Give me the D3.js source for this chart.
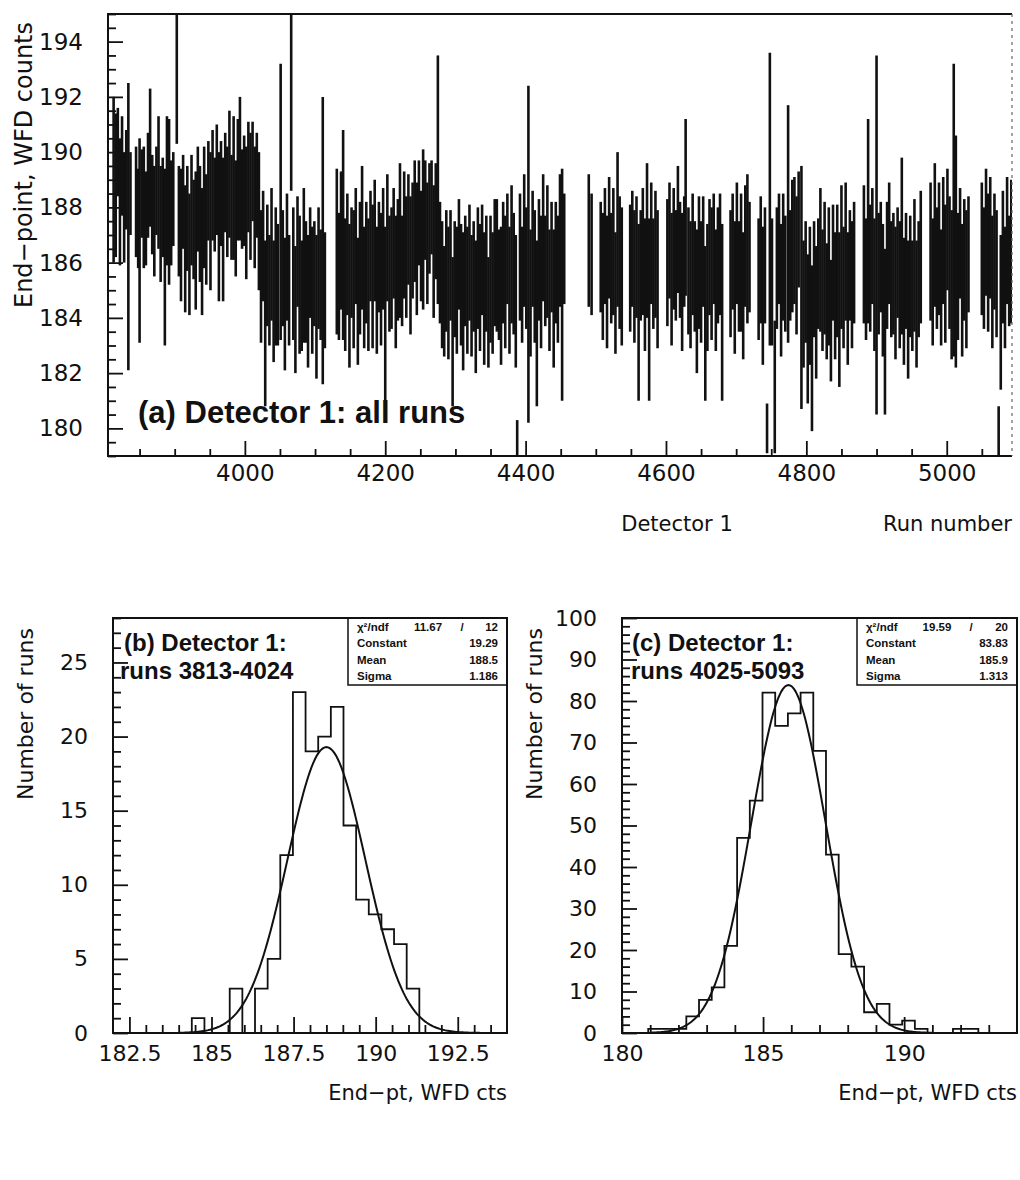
<!DOCTYPE html>
<html>
<head>
<meta charset="utf-8">
<script src="https://cdn.jsdelivr.net/npm/d3@7"></script>
<style>
  body { margin: 0; background: #fff; }
  svg text { fill: #111; }
</style>
</head>
<body>
<svg id="chart" width="1020" height="1180"></svg>
<script>
// ---------- data: panel (a), end-point per run (centre and error) ----------
const runNo = [
  3813,3816,3819,3822,3825,3828,3831,3834,3837,
  3845,3848,3850,3853,3856,3859,3862,3865,3868,3871,3874,3877,3880,3883,3886,3889,3892,3895,3898,3903,
  3906,3909,3912,3915,3918,3921,3924,3927,3930,3933,3936,3939,
  3942,3945,3948,3951,3954,3957,3960,3963,3966,3969,3972,3975,3978,3981,3984,3987,3990,3993,3996,3999,4002,4005,4008,4011,4014,4017,4020,
  4023,4026,4029,4032,4035,4038,4041,4044,4047,4051,4054,4057,4060,4063,4066,4069,4072,4075,4078,4081,4084,4087,4090,4093,4096,4099,4102,4105,4108,4111,4114,
  4131,4134,4137,4140,4143,4146,4149,4152,4155,4158,4161,4164,4167,4170,
  4173,4176,4179,4182,4185,4188,4191,4194,4197,4200,4203,4206,4209,4212,4215,4218,4221,4224,4227,4230,4233,4236,4239,4242,4245,4248,4251,4254,4257,4260,4263,4266,4269,4272,4275,
  4278,4281,4284,4287,4290,4293,4296,4299,4302,4305,4308,4311,4314,4317,4320,4323,4326,4329,4332,4335,4338,4341,4344,4347,4350,4353,4356,4359,4362,
  4365,4368,4371,4374,4377,4380,4383,4386,4388,4392,4395,4398,4401,4404,4407,4410,4413,4416,4419,4422,4425,4428,4431,4434,4437,4440,4443,4446,4449,4452,4455,
  4490,4494,
  4507,4510,4513,4516,4519,4522,4525,4528,4531,4534,4537,
  4549,4552,4555,4558,4561,4564,4567,4570,4573,4576,4579,4582,4585,4588,
  4602,4605,4608,4611,4614,4617,4620,4623,4626,4628,4632,
  4635,4638,4641,4644,4647,4650,4653,4656,4659,4662,4665,4668,4671,4674,4677,4680,
  4692,4695,4698,4701,4704,4707,4710,4713,4716,4719,
  4732,4735,4738,4741,4744,4748,4751,4755,4758,4761,4764,4767,4770,4774,4777,4780,4783,4786,4789,
  4793,4796,4799,4802,4805,4808,4811,4814,4817,4820,
  4823,4826,4829,4832,4835,4838,4841,4844,4847,4850,4853,4856,4859,4862,4865,4868,
  4882,4885,4888,4891,4894,4897,4900,4903,4906,4909,4912,4915,4918,4921,
  4924,4927,4930,4933,4936,4939,4942,4945,4948,4951,4954,4957,4960,4963,
  4977,4980,4983,4986,4989,4992,4995,4998,5001,5004,5007,5010,5013,5016,5019,5022,5025,5028,5031,
  5050,5053,5056,5059,5062,5065,5068,5071,5074,5077,5080,5083,5086,5089,5092
];
const endPt = [
  189.0,188.8,190.0,188.2,189.5,188.0,189.0,187.3,188.5,
  188.2,187.6,186.8,188.5,188.0,187.6,188.8,189.8,188.1,187.5,188.6,188.9,187.4,188.0,186.2,188.6,188.2,187.8,188.3,193.0,
  187.5,187.0,188.2,186.5,187.6,186.3,187.9,187.2,186.8,188.3,187.4,186.4,
  188.0,187.2,188.6,187.5,188.8,188.1,189.0,187.3,188.5,187.2,188.9,188.2,189.2,188.0,188.7,187.6,189.0,189.4,188.3,188.6,187.8,189.1,188.4,189.3,188.0,188.8,187.5,
  185.5,186.6,183.8,185.9,185.0,186.3,184.6,185.5,185.2,188.2,185.8,184.5,186.2,185.0,191.8,185.6,184.3,186.4,185.2,184.8,185.9,185.3,184.6,186.0,185.0,185.6,184.4,185.8,185.2,186.8,185.0,
  186.4,185.5,186.8,187.0,185.2,186.3,184.8,186.0,185.4,186.6,184.6,185.8,186.9,185.1,
  186.0,185.2,186.6,185.5,186.8,185.0,186.2,185.4,186.5,184.0,186.9,185.6,185.8,186.7,185.3,186.1,186.8,185.7,187.0,186.2,187.2,185.9,186.8,187.5,186.5,187.8,186.6,187.2,187.9,186.7,187.6,188.0,186.4,187.5,189.0,
  186.0,185.2,184.6,185.7,184.9,185.9,183.5,185.4,185.0,186.3,185.2,184.6,185.7,185.0,186.0,184.8,185.5,184.4,185.8,185.1,186.1,184.7,185.6,184.2,185.4,184.9,186.0,185.9,185.2,
  184.8,186.0,185.3,186.5,185.0,186.3,185.6,184.6,179.6,186.2,185.2,186.8,185.8,186.3,184.9,186.5,185.5,183.8,186.1,185.3,186.9,185.7,186.4,185.0,186.2,184.7,186.0,185.4,186.8,185.2,186.5,
  186.8,186.3,
  186.2,185.5,186.6,185.3,186.9,185.8,186.4,184.9,187.2,186.0,185.5,
  185.8,186.5,185.5,186.2,184.2,185.9,186.4,185.2,186.8,184.3,186.7,185.6,186.3,185.4,
  186.0,186.8,185.4,186.5,185.9,187.2,186.1,185.3,186.4,188.0,185.7,
  185.2,186.3,185.5,184.6,186.0,185.3,186.4,183.8,185.1,186.2,185.6,186.5,185.0,185.9,186.3,184.2,
  185.6,186.4,185.1,186.7,185.5,186.0,184.8,186.6,186.5,186.2,
  185.4,186.1,184.8,185.9,180.0,188.3,185.3,181.5,185.8,186.5,185.0,186.2,185.6,187.4,185.9,186.6,186.8,185.9,187.2,
  185.1,184.5,185.3,183.6,184.8,182.9,185.4,184.2,185.6,186.1,
  185.0,185.8,184.6,185.5,183.9,186.0,184.8,185.7,184.3,186.2,185.1,186.4,184.7,185.9,185.2,186.0,
  186.3,185.4,187.5,185.8,186.6,185.2,187.0,185.6,186.2,185.0,183.5,185.9,186.7,185.4,
  185.6,184.9,186.0,185.2,186.6,184.6,185.7,184.3,185.5,184.8,185.9,184.5,185.4,186.2,
  186.4,185.3,187.0,185.8,186.5,185.1,186.8,185.6,187.2,186.0,185.2,187.9,186.4,185.5,186.7,185.0,186.1,185.4,186.3,
  186.5,185.8,187.1,186.0,186.9,185.3,186.4,185.6,179.9,184.2,186.2,185.1,186.8,185.7,186.4
];
const endPtErr = [
  3.0,2.6,1.6,2.3,1.8,2.0,1.8,5.2,1.5,
  2.0,1.8,3.7,1.6,2.2,1.7,1.9,2.5,1.8,2.0,1.6,2.4,2.1,1.8,3.2,2.7,3.0,1.9,1.7,2.7,
  2.0,2.4,1.7,2.3,1.9,2.2,2.0,1.8,2.5,1.9,2.1,2.3,
  2.2,2.0,1.8,2.5,2.0,1.7,2.0,2.7,1.9,2.6,1.8,2.0,2.3,1.9,2.6,2.1,2.2,2.6,1.8,2.0,2.4,2.0,2.3,1.8,2.2,1.9,2.5,
  2.4,2.0,3.0,2.2,2.0,2.4,2.2,2.5,2.2,5.0,2.1,2.4,2.3,2.0,3.2,2.4,2.3,2.0,2.5,2.0,2.8,2.2,2.4,2.0,2.3,1.9,2.6,2.2,2.0,5.2,2.1,
  3.0,2.3,2.5,3.8,2.4,2.2,2.6,2.0,2.5,2.1,2.3,2.4,2.6,2.2,
  2.2,2.4,2.0,2.6,2.2,2.3,2.0,2.4,2.2,3.3,2.3,2.1,2.2,2.0,2.4,2.2,2.8,2.0,2.3,2.2,2.0,2.5,2.1,2.2,2.4,1.9,2.0,2.9,1.8,2.2,2.0,1.7,2.4,2.1,4.5,
  2.2,2.3,2.0,2.2,2.4,2.0,2.7,2.1,2.3,2.0,2.2,2.5,2.0,2.3,2.1,2.2,2.0,2.4,2.2,2.3,2.0,2.4,2.1,2.0,2.3,2.2,2.3,2.4,2.0,
  2.5,2.2,2.4,2.0,2.3,2.5,2.2,2.4,0.7,2.3,2.1,2.4,2.2,6.1,2.3,2.1,2.4,3.0,2.2,2.4,2.3,2.0,2.4,2.2,2.0,2.5,2.2,2.3,2.4,4.2,2.0,
  2.4,2.2,
  2.0,2.3,2.1,2.4,2.2,2.0,2.3,2.2,2.8,2.4,2.5,
  2.3,2.1,2.4,2.2,3.2,2.0,2.3,2.4,2.8,3.3,2.2,2.0,2.3,2.5,
  2.3,2.1,2.4,2.2,2.0,2.3,2.1,2.5,2.0,3.2,2.3,
  2.3,2.2,2.0,2.6,2.4,2.2,2.0,2.8,2.3,2.1,2.4,2.0,2.2,2.1,2.2,3.2,
  2.3,2.1,2.4,2.2,2.0,2.5,2.3,2.2,2.7,2.0,
  2.2,2.3,2.5,2.1,0.9,5.3,2.3,2.4,2.2,2.0,2.4,2.3,2.1,4.3,2.0,2.4,2.3,2.5,2.1,
  4.4,2.3,2.2,2.7,2.5,3.0,2.1,2.4,2.0,2.6,
  2.2,2.4,2.1,2.5,2.2,2.1,2.3,2.4,2.8,2.6,2.2,2.5,2.4,2.0,2.3,2.2,
  2.5,2.2,3.7,2.3,2.1,2.4,6.5,2.2,2.0,2.4,3.0,2.3,2.2,2.1,
  2.2,2.4,2.0,2.3,3.2,2.3,2.1,2.5,2.2,2.0,2.4,2.3,2.1,2.4,
  2.5,2.3,2.6,2.2,2.4,2.1,2.3,2.5,2.2,2.4,2.7,5.3,4.2,2.3,2.0,2.4,2.2,2.5,2.1,
  2.4,2.2,2.3,2.5,2.2,2.4,2.1,2.3,0.9,2.8,2.4,2.2,2.3,2.0,2.6
];

// ---------- data: panel (b) histogram + fit ----------
const binsB = { start: 184.4, width: 0.385 };
const countsB = [1,0,0,3,0,3,5,12,23,19,20,22,14,9,8,7,6,3];
const fitB = { constant: 19.29, mean: 188.5, sigma: 1.186 };
const statsB = [["χ²/ndf", "11.67", "/", "12"], ["Constant", "", "", "19.29"], ["Mean", "", "", "188.5"], ["Sigma", "", "", "1.186"]];

// ---------- data: panel (c) histogram + fit ----------
const binsC = { start: 180.93, width: 0.45 };
const countsC = [1,1,1,4,8,11,21,47,56,82,74,77,82,68,43,19,16,5,7,2,3,1,0,0,1,1];
const fitC = { constant: 83.83, mean: 185.9, sigma: 1.313 };
const statsC = [["χ²/ndf", "19.59", "/", "20"], ["Constant", "", "", "83.83"], ["Mean", "", "", "185.9"], ["Sigma", "", "", "1.313"]];

const ticksA_y = [180,182,184,186,188,190,192,194];
const ticksA_x = [4000,4200,4400,4600,4800,5000];
const ticksB_y = [0,5,10,15,20,25];
const ticksB_x = [182.5,185,187.5,190,192.5];
const ticksC_y = [0,10,20,30,40,50,60,70,80,90,100];
const ticksC_x = [180,185,190];

const FONT = "'DejaVu Sans', sans-serif";
const BOLD = "'Liberation Sans', Arial, sans-serif";
const INK = "#111";

const svg = d3.select("#chart");

function drawTicks(g, axisFn, scale, vals, len, withLabels, pad, size) {
  const ax = axisFn(scale).tickValues(vals).tickSizeInner(-len).tickSizeOuter(0).tickPadding(pad);
  if (!withLabels) ax.tickFormat("");
  else ax.tickFormat(d => String(d));
  g.call(ax);
  g.select(".domain").remove();
  g.attr("font-family", FONT).attr("font-size", size);
  g.selectAll(".tick line").attr("stroke", INK).attr("stroke-width", 1.8);
  g.selectAll(".tick text").attr("fill", INK);
}

function frame(x0, y0, x1, y1) {
  svg.append("rect").attr("x", x0).attr("y", y0)
    .attr("width", x1 - x0).attr("height", y1 - y0)
    .attr("fill", "none").attr("stroke", INK).attr("stroke-width", 2);
}

// ================= panel (a) =================
const xA = d3.scaleLinear().domain([3805, 5093]).range([108, 1012]);
const yA = d3.scaleLinear().domain([179, 195]).range([456, 14]);

svg.append("clipPath").attr("id", "clipA").append("rect")
  .attr("x", 108).attr("y", 14).attr("width", 904).attr("height", 442);

svg.append("g").attr("clip-path", "url(#clipA)")
  .selectAll("line").data(runNo).join("line")
  .attr("x1", d => xA(d)).attr("x2", d => xA(d))
  .attr("y1", (d, i) => yA(endPt[i] + endPtErr[i]))
  .attr("y2", (d, i) => yA(endPt[i] - endPtErr[i]))
  .attr("stroke", INK).attr("stroke-width", 2.6);

// y ticks
let g = svg.append("g").attr("transform", "translate(108,0)");
drawTicks(g, d3.axisLeft, yA, ticksA_y, 15, true, 25, 23);
g = svg.append("g").attr("transform", "translate(108,0)");
drawTicks(g, d3.axisLeft, yA, d3.range(179, 195.01, 0.5).filter(v => !ticksA_y.includes(v)), 8, false, 0, 10);
// x ticks
g = svg.append("g").attr("transform", "translate(0,456)");
drawTicks(g, d3.axisBottom, xA, ticksA_x, 15, true, 9, 23);
g = svg.append("g").attr("transform", "translate(0,456)");
drawTicks(g, d3.axisBottom, xA, d3.range(3850, 5093, 50).filter(v => !ticksA_x.includes(v)), 7, false, 0, 10);

// frame: solid left, bottom, top; faint dotted right edge
svg.append("path").attr("d", "M1012,14H108V456H1012")
  .attr("fill", "none").attr("stroke", INK).attr("stroke-width", 2);
svg.append("line").attr("x1", 1012).attr("x2", 1012).attr("y1", 14).attr("y2", 456)
  .attr("stroke", "#666").attr("stroke-width", 1.2).attr("stroke-dasharray", "3,4");

svg.append("text").attr("transform", "translate(32,165) rotate(-90)")
  .attr("text-anchor", "middle").attr("font-family", FONT).attr("font-size", 24)
  .text("End−point, WFD counts");
svg.append("text").attr("x", 677).attr("y", 531).attr("text-anchor", "middle")
  .attr("font-family", FONT).attr("font-size", 21).text("Detector 1");
svg.append("text").attr("x", 1012).attr("y", 531).attr("text-anchor", "end")
  .attr("font-family", FONT).attr("font-size", 21).text("Run number");
svg.append("text").attr("x", 138).attr("y", 423)
  .attr("font-family", BOLD).attr("font-weight", "bold").attr("font-size", 31)
  .text("(a) Detector 1: all runs");

// ================= histogram panels =================
function histPanel(opt) {
  const x = d3.scaleLinear().domain(opt.xDomain).range([opt.x0, opt.x1]);
  const y = d3.scaleLinear().domain(opt.yDomain).range([opt.y1, opt.y0]);

  // histogram outline
  const pts = [[opt.bins.start, 0]];
  opt.counts.forEach((c, i) => pts.push([opt.bins.start + i * opt.bins.width, c]));
  pts.push([opt.bins.start + opt.counts.length * opt.bins.width, 0]);
  svg.append("path")
    .attr("d", d3.line().x(d => x(d[0])).y(d => y(d[1])).curve(d3.curveStepAfter)(pts))
    .attr("fill", "none").attr("stroke", INK).attr("stroke-width", 1.8);

  // gaussian fit from the stat-box parameters
  const f = opt.fit;
  const gx = d3.range(opt.fitRange[0], opt.fitRange[1] + 0.001, 0.05);
  svg.append("path")
    .attr("d", d3.line().x(v => x(v))
      .y(v => y(f.constant * Math.exp(-0.5 * ((v - f.mean) / f.sigma) ** 2)))(gx))
    .attr("fill", "none").attr("stroke", INK).attr("stroke-width", 2);

  // ticks
  let t = svg.append("g").attr("transform", `translate(${opt.x0},0)`);
  drawTicks(t, d3.axisLeft, y, opt.yTicks, 15, true, 25, 22);
  t = svg.append("g").attr("transform", `translate(${opt.x0},0)`);
  drawTicks(t, d3.axisLeft, y, d3.range(opt.yDomain[0], opt.yDomain[1] + 0.01, opt.yMinor).filter(v => !opt.yTicks.includes(v)), 8, false, 0, 10);
  t = svg.append("g").attr("transform", `translate(0,${opt.y1})`);
  drawTicks(t, d3.axisBottom, x, opt.xTicks, 16, true, 12, 22);
  t = svg.append("g").attr("transform", `translate(0,${opt.y1})`);
  drawTicks(t, d3.axisBottom, x, opt.xMinor.filter(v => !opt.xTicks.includes(v)), 8, false, 0, 10);

  frame(opt.x0, opt.y0, opt.x1, opt.y1);

  // stats box
  svg.append("path").attr("d", `M${opt.boxX},${opt.y0}V685H${opt.x1}`)
    .attr("fill", "none").attr("stroke", INK).attr("stroke-width", 1.5);
  const base = [631, 647, 664, 680];
  opt.stats.forEach((r, i) => {
    const tg = svg.append("g").attr("font-family", BOLD).attr("font-weight", "bold").attr("font-size", 11.5);
    tg.append("text").attr("x", opt.boxX + 9).attr("y", base[i]).text(r[0]);
    if (r[1]) tg.append("text").attr("x", opt.boxX + 80).attr("y", base[i]).attr("text-anchor", "middle").text(r[1]);
    if (r[2]) tg.append("text").attr("x", opt.boxX + 114).attr("y", base[i]).attr("text-anchor", "middle").text(r[2]);
    tg.append("text").attr("x", opt.x1 - 9).attr("y", base[i]).attr("text-anchor", "end").text(r[3]);
  });

  // annotation
  opt.note.forEach((s, i) => {
    svg.append("text").attr("x", opt.noteX[i]).attr("y", [651, 679][i])
      .attr("font-family", BOLD).attr("font-weight", "bold").attr("font-size", 24).text(s);
  });

  svg.append("text").attr("transform", `translate(${opt.x0 - 80},714) rotate(-90)`)
    .attr("text-anchor", "middle").attr("font-family", FONT).attr("font-size", 22)
    .text("Number of runs");
  svg.append("text").attr("x", opt.x1).attr("y", 1100).attr("text-anchor", "end")
    .attr("font-family", FONT).attr("font-size", 21).text("End−pt, WFD cts");
}

histPanel({
  x0: 113, x1: 507, y0: 618, y1: 1033,
  xDomain: [182, 194], yDomain: [0, 28],
  bins: binsB, counts: countsB, fit: fitB, fitRange: [184, 193.2],
  yTicks: ticksB_y, yMinor: 1, xTicks: ticksB_x, xMinor: d3.range(182.5, 194, 0.5),
  boxX: 348, stats: statsB,
  note: ["(b) Detector 1:", "runs 3813-4024"], noteX: [124, 120]
});

histPanel({
  x0: 622, x1: 1017, y0: 618, y1: 1033,
  xDomain: [180, 194], yDomain: [0, 100],
  bins: binsC, counts: countsC, fit: fitC, fitRange: [181, 191],
  yTicks: ticksC_y, yMinor: 2, xTicks: ticksC_x, xMinor: d3.range(181, 194, 1),
  boxX: 857, stats: statsC,
  note: ["(c) Detector 1:", "runs 4025-5093"], noteX: [632, 631]
});
</script>
</body>
</html>
